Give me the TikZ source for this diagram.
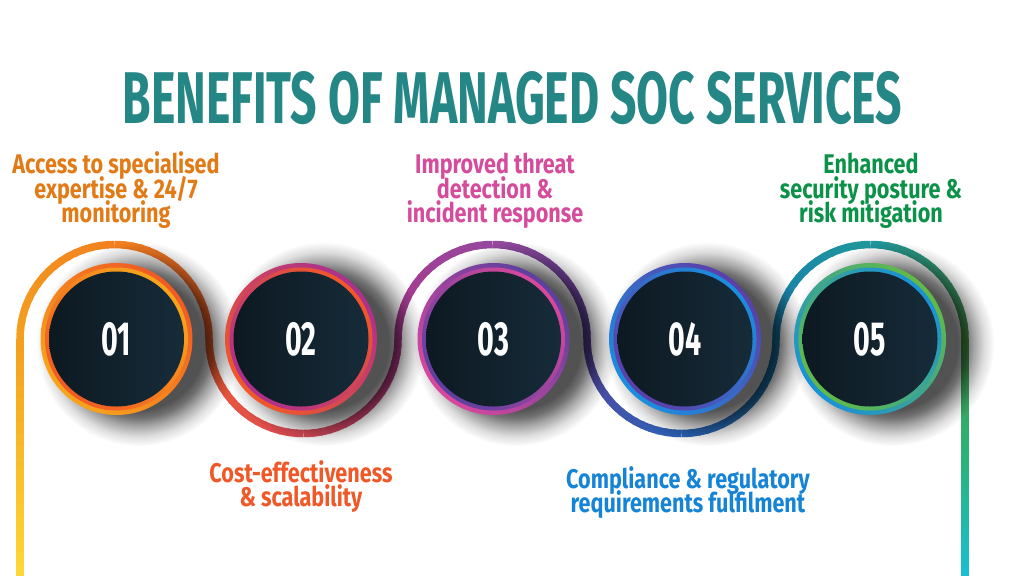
\documentclass[tikz,border=0pt]{standalone}
\usepackage{fontspec}
\usepackage{tikz}
\usetikzlibrary{fadings,calc}
\newfontfamily\titlefont{Fira Sans}[FakeStretch=0.6]
\newfontfamily\labelfont{Fira Sans}[FakeStretch=0.8]
\newfontfamily\numfont{Fira Sans}[FakeStretch=0.6]

\definecolor{titleteal}{RGB}{36,135,133}
\definecolor{labA}{RGB}{226,122,22}
\definecolor{labB}{RGB}{240,88,40}
\definecolor{labC}{RGB}{214,76,156}
\definecolor{labD}{RGB}{22,132,214}
\definecolor{labE}{RGB}{12,146,72}

\definecolor{pLa}{RGB}{253,214,55}
\definecolor{pLb}{RGB}{244,160,30}
\definecolor{pAm}{RGB}{242,128,32}
\definecolor{pA}{RGB}{236,92,42}
\definecolor{pBm}{RGB}{220,75,88}
\definecolor{pB}{RGB}{170,55,140}
\definecolor{pCm}{RGB}{150,72,158}
\definecolor{pC}{RGB}{88,65,155}
\definecolor{pDm}{RGB}{45,100,185}
\definecolor{pD}{RGB}{25,125,175}
\definecolor{pEm}{RGB}{30,150,155}
\definecolor{pE}{RGB}{72,150,72}
\definecolor{pRm}{RGB}{40,180,120}
\definecolor{pR}{RGB}{25,190,210}

\definecolor{rAa}{RGB}{246,165,28}\definecolor{rAb}{RGB}{241,90,36}
\definecolor{rBa}{RGB}{241,88,40}\definecolor{rBb}{RGB}{172,48,142}
\definecolor{rCa}{RGB}{216,72,156}\definecolor{rCb}{RGB}{92,64,160}
\definecolor{rDa}{RGB}{26,142,222}\definecolor{rDb}{RGB}{92,62,170}
\definecolor{rEa}{RGB}{26,145,215}\definecolor{rEb}{RGB}{98,186,70}
\definecolor{discL}{RGB}{13,25,33}
\definecolor{discR}{RGB}{22,43,57}

\pgfdeclareradialshading{softshadowshading}{\pgfpointorigin}{color(0bp)=(black!0); color(16bp)=(black!0); color(18bp)=(black!18); color(20bp)=(black!48); color(22.5bp)=(black!80); color(25bp)=(black!100); color(50bp)=(black!100)}
\pgfdeclarefading{softshadow}{\pgfuseshading{softshadowshading}}

% gradient arc: center coordinate, start angle, end angle, radius, colour A, colour B
\newcommand{\gradarc}[6]{%
  \foreach \i in {0,...,17}{%
    \pgfmathsetmacro\angA{#2+(#3-#2)*\i/18}%
    \pgfmathsetmacro\angB{#2+(#3-#2)*min(\i+1.3,18)/18}%
    \pgfmathsetmacro\pc{100*\i/17}%
    \draw[pathline, draw=#6!\pc!#5] (#1) ++(\angA:#4) arc[start angle=\angA, end angle=\angB, radius=#4];
  }}
% gradient vertical line: x, y1, y2, colour A, colour B
\newcommand{\gradline}[5]{%
  \foreach \i in {0,...,19}{%
    \pgfmathsetmacro\ya{#2+(#3-#2)*\i/20}%
    \pgfmathsetmacro\yb{#2+(#3-#2)*min(\i+1.2,20)/20}%
    \pgfmathsetmacro\pc{100*\i/19}%
    \draw[pathline, draw=#5!\pc!#4] (#1,\ya) -- (#1,\yb);
  }}
% badge: name, centre, colours, number
\newcommand{\badge}[5]{%
  \shade[top color=#4, bottom color=#3, shading angle=-45] (#2) circle (76);
  \shade[top color=#3, bottom color=#4, shading angle=-45] (#2) circle (71.5);
  \shade[left color=discL, right color=discR] (#2) circle (67.5);
  \node[numtext] (#1) at ($(#2)+(0,16)$) {\resizebox{!}{33pt}{\numfont\bfseries #5}};
}

\begin{document}
\begin{tikzpicture}[x=1pt,y=-1pt,
  pathline/.style={line width=7.5pt},
  numtext/.style={inner sep=0pt, anchor=base, text=white},
  titletext/.style={inner sep=0pt, anchor=base, text=titleteal},
  labeltext/.style={inner sep=0pt, anchor=base, text height=18.5pt, text depth=4.5pt,
    font=\labelfont\bfseries\fontsize{27}{24}\selectfont}]
\useasboundingbox (0,0) rectangle (1024,576);
\fill[white] (0,0) rectangle (1024,576);

% arc centres of the winding line
\coordinate (a1) at (114.5,339);
\coordinate (a2) at (303.5,339);
\coordinate (a3) at (492.5,339);
\coordinate (a4) at (681.5,339);
\coordinate (a5) at (870.5,339);
% badge centres
\coordinate (c1) at (116.5,339);
\coordinate (c2) at (301,339);
\coordinate (c3) at (493.5,339);
\coordinate (c4) at (685,339);
\coordinate (c5) at (870,339);

% winding line
\gradline{20}{576}{339}{pLa}{pLb}
\gradarc{a1}{180}{270}{94.5}{pLb}{pAm}
\gradarc{a1}{270}{360}{94.5}{pAm}{pA}
\gradarc{a2}{180}{90}{94.5}{pA}{pBm}
\gradarc{a2}{90}{0}{94.5}{pBm}{pB}
\gradarc{a3}{180}{270}{94.5}{pB}{pCm}
\gradarc{a3}{270}{360}{94.5}{pCm}{pC}
\gradarc{a4}{180}{90}{94.5}{pC}{pDm}
\gradarc{a4}{90}{0}{94.5}{pDm}{pD}
\gradarc{a5}{180}{270}{94.5}{pD}{pEm}
\gradarc{a5}{270}{360}{94.5}{pEm}{pE}
\gradline{965}{339}{457.5}{pE}{pRm}
\gradline{965}{457.5}{576}{pRm}{pR}

% shadows
\foreach \c in {c1,c2,c3,c4,c5}{
  \fill[black, opacity=0.68, path fading=softshadow] ($(\c)+(22,5)$) circle (102);
}

% badges
\badge{n1}{c1}{rAa}{rAb}{01}
\badge{n2}{c2}{rBa}{rBb}{02}
\badge{n3}{c3}{rCa}{rCb}{03}
\badge{n4}{c4}{rDa}{rDb}{04}
\badge{n5}{c5}{rEa}{rEb}{05}

% title
\node[titletext] (title) at (512.5,123) {\resizebox{779pt}{52pt}{\titlefont\bfseries BENEFITS OF MANAGED SOC SERVICES}};

% labels
\node[labeltext, text=labA] (l1a) at (116,173.8) {Access to specialised};
\node[labeltext, text=labA] (l1b) at (116,198) {expertise \& 24/7};
\node[labeltext, text=labA] (l1c) at (116,222.2) {monitoring};

\node[labeltext, text=labB] (l2a) at (301,482) {Cost-effectiveness};
\node[labeltext, text=labB] (l2b) at (301,506.5) {\& scalability};

\node[labeltext, text=labC] (l3a) at (495,173.8) {Improved threat};
\node[labeltext, text=labC] (l3b) at (495,198) {detection \&};
\node[labeltext, text=labC] (l3c) at (495,222.2) {incident response};

\node[labeltext, text=labD] (l4a) at (688,488) {Compliance \& regulatory};
\node[labeltext, text=labD] (l4b) at (688,512.2) {requirements fulfilment};

\node[labeltext, text=labE] (l5a) at (871,173.8) {Enhanced};
\node[labeltext, text=labE] (l5b) at (871,198) {security posture \&};
\node[labeltext, text=labE] (l5c) at (871,222.2) {risk mitigation};
\end{tikzpicture}
\end{document}
